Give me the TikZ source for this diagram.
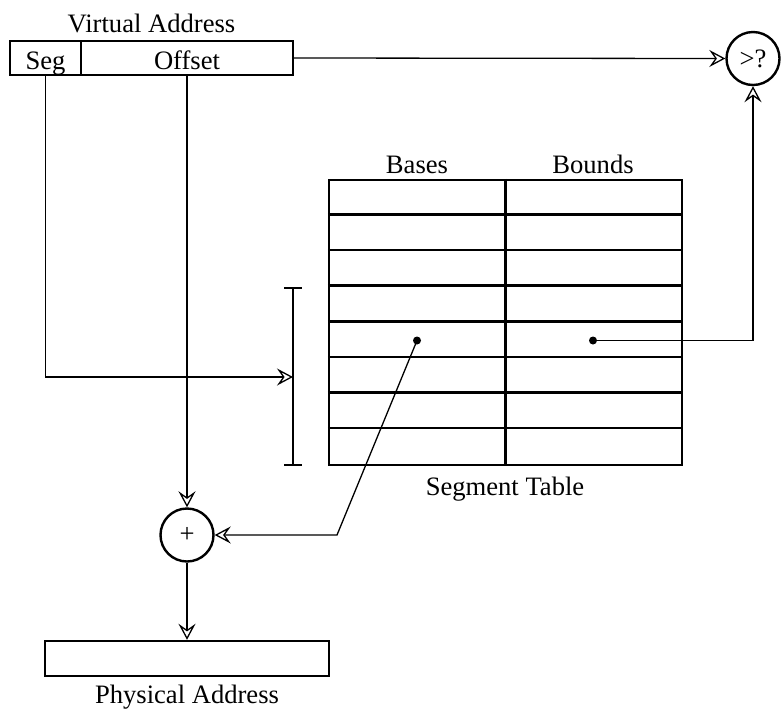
\documentclass[tikz,border=0pt]{standalone}
\usepackage{fontspec}
\setmainfont{Liberation Serif}
\usetikzlibrary{arrows.meta}
\begin{document}
\begin{tikzpicture}[x=1pt,y=-1pt,
  font=\fontsize{26.6}{32}\selectfont,
  boxline/.style={draw,line width=2.4pt},
  cell/.style={boxline,inner sep=0pt,minimum height=34pt,text height=22pt,text depth=0pt},
  circ/.style={boxline,circle,inner sep=0pt,minimum size=53pt},
  dot/.style={circle,fill,inner sep=0pt,minimum size=8pt},
  lbl/.style={anchor=base,inner sep=0pt},
  arr/.style={line width=1.3pt,-{Stealth[open,length=16pt,width=17pt,inset=6pt,fill=white]}},
  conn/.style={line width=1.3pt}]
\useasboundingbox (0,0) rectangle (781,713);

% virtual address register
\node[cell,minimum width=71pt] (seg) at (45.5,58) {Seg};
\node[cell,minimum width=212pt] (offset) at (187,58) {Offset};
\node[lbl] (valbl) at (151.5,32) {Virtual Address};

% segment table
\node[boxline,inner sep=0pt,minimum width=353pt,minimum height=285pt] (table) at (505.5,322.5) {};
\draw[line width=2.4pt] (table.north) -- (table.south);
\foreach \i in {1,...,7}
  \draw[line width=2.4pt] ([yshift=-\i*35.625pt]table.north west) -- ([yshift=-\i*35.625pt]table.north east);
\node[lbl] (baseslbl) at (417,173) {Bases};
\node[lbl] (boundslbl) at (593,173) {Bounds};
\node[lbl] (stlbl) at (505,495) {Segment Table};
\node[dot] (bdot) at (417,340.5) {};
\node[dot] (ndot) at (593,340.5) {};

% index range bracket
\coordinate (brtop) at (293,288);
\coordinate (brbot) at (293,465);
\coordinate (segin) at (293,377);
\draw[conn] (brtop) -- (brbot);
\draw[conn] ([xshift=-9pt]brtop) -- ([xshift=9pt]brtop);
\draw[conn] ([xshift=-9pt]brbot) -- ([xshift=9pt]brbot);

% comparator and adder
\node[circ] (cmp) at (753,58.5) {>?};
\node[circ] (plus) at (187,535) {+};

% physical address register
\node[boxline,inner sep=0pt,minimum width=284pt,minimum height=35pt] (phys) at (187,658.5) {};
\node[lbl] (palbl) at (187,703) {Physical Address};

% connectors
\coordinate (bend) at (337,535);
\draw[arr] (offset.east) -- (cmp.west);
\draw[arr] (seg.south) |- (segin);
\draw[arr] (offset.south) -- (plus.north);
\draw[arr] (ndot.center) -| (cmp.south);
\draw[arr] (bdot.center) -- (bend) -- (plus.east);
\draw[arr] (plus.south) -- (phys.north);
\end{tikzpicture}
\end{document}
